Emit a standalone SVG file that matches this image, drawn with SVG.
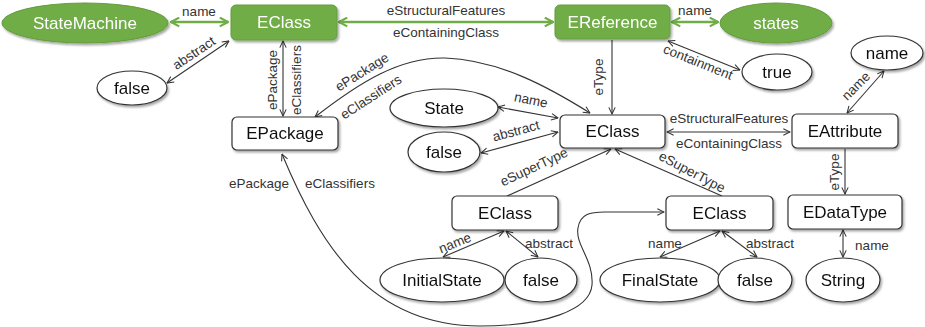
<svg xmlns="http://www.w3.org/2000/svg" width="925" height="327" viewBox="0 0 925 327">
<style>
.gn{fill:#70AD47;stroke:#639c3d;stroke-width:1}
.wn{fill:#fff;stroke:#333;stroke-width:1.2}
.nt{font-family:"Liberation Sans",Arial,sans-serif;font-size:17px;fill:#111;text-anchor:middle;dominant-baseline:central}
.gt{fill:#fff}
.lb{font-family:"Liberation Sans",Arial,sans-serif;font-size:13.5px;fill:#333;text-anchor:middle;dominant-baseline:central}
.c{fill:none;stroke:#333;stroke-width:1.1}
.cd{marker-start:url(#ah);marker-end:url(#ah)}
.cs{marker-end:url(#ah)}
.g{fill:none;stroke:#70AD47;stroke-width:2.5;marker-start:url(#gh);marker-end:url(#gh)}
</style>
<defs>
<filter id="sh" x="-20%" y="-20%" width="150%" height="160%">
<feDropShadow dx="1.5" dy="2" stdDeviation="1.3" flood-color="#000" flood-opacity="0.35"/>
</filter>
<marker id="ah" viewBox="0 0 10 10" refX="9.3" refY="5" markerWidth="8" markerHeight="8" markerUnits="userSpaceOnUse" orient="auto-start-reverse">
<path d="M1,1 L9.3,5 L1,9" fill="none" stroke="#333" stroke-width="1.3"/>
</marker>
<marker id="gh" viewBox="0 0 10 10" refX="9" refY="5" markerWidth="11" markerHeight="11" markerUnits="userSpaceOnUse" orient="auto-start-reverse">
<path d="M1.5,1 L9,5 L1.5,9" fill="none" stroke="#70AD47" stroke-width="2"/>
</marker>
</defs>

<g id="connectors">
<line class="g" x1="171" y1="22" x2="228" y2="22"/>
<line class="g" x1="339" y1="22" x2="553" y2="22"/>
<line class="g" x1="672" y1="22" x2="718" y2="22"/>
<line class="c cd" x1="167" y1="83" x2="229" y2="41"/>
<line class="c cd" x1="283" y1="41" x2="283" y2="116"/>
<line class="c cs" x1="612" y1="40" x2="612" y2="114"/>
<path class="c cd" d="M315,117 C360,82 400,57 445,58 C500,60 550,88 590,113"/>
<line class="c cd" x1="668" y1="41" x2="740" y2="70"/>
<line class="c cd" x1="498" y1="107" x2="558" y2="118"/>
<line class="c cd" x1="481" y1="153" x2="558" y2="132"/>
<line class="c cd" x1="667" y1="132" x2="790" y2="132"/>
<line class="c cd" x1="847" y1="113" x2="884" y2="71"/>
<line class="c cs" x1="845" y1="149" x2="845" y2="194"/>
<line class="c cs" x1="507" y1="196" x2="611" y2="149"/>
<line class="c cs" x1="722" y1="196" x2="615" y2="149"/>
<line class="c cd" x1="843" y1="230" x2="843" y2="257"/>
<line class="c cd" x1="443" y1="257" x2="504" y2="231"/>
<line class="c cd" x1="506" y1="231" x2="538" y2="257"/>
<line class="c cd" x1="660" y1="257" x2="720" y2="231"/>
<line class="c cd" x1="722" y1="231" x2="757" y2="257"/>
<path class="c cd" d="M282,154 C320,245 370,326 480,326 C545,326 590,310 592,285 C594,260 575,245 578,228 C580,214 590,212 605,212 L664,212"/>

<text class="lb" x="199" y="11">name</text>
<text class="lb" x="446" y="10">eStructuralFeatures</text>
<text class="lb" x="446" y="32">eContainingClass</text>
<text class="lb" x="695" y="10">name</text>
<text class="lb" transform="translate(194,53) rotate(-34)">abstract</text>
<text class="lb" transform="translate(272,80) rotate(-90)">ePackage</text>
<text class="lb" transform="translate(296,80) rotate(-90)">eClassifiers</text>
<text class="lb" transform="translate(362,72) rotate(-32)">ePackage</text>
<text class="lb" transform="translate(371,97) rotate(-33)">eClassifiers</text>
<text class="lb" transform="translate(598,77) rotate(-90)">eType</text>
<text class="lb" transform="translate(698,62) rotate(22)">containment</text>
<text class="lb" transform="translate(531,100) rotate(12)">name</text>
<text class="lb" transform="translate(516,131) rotate(-15)">abstract</text>
<text class="lb" x="729" y="118">eStructuralFeatures</text>
<text class="lb" x="729" y="143">eContainingClass</text>
<text class="lb" transform="translate(856,86) rotate(-45)">name</text>
<text class="lb" transform="translate(834,172) rotate(-90)">eType</text>
<text class="lb" transform="translate(534,167) rotate(-25)">eSuperType</text>
<text class="lb" transform="translate(692,172) rotate(28)">eSuperType</text>
<text class="lb" transform="translate(455,243) rotate(-22)">name</text>
<text class="lb" x="549" y="243">abstract</text>
<text class="lb" x="665" y="243">name</text>
<text class="lb" x="770" y="243">abstract</text>
<text class="lb" x="872" y="245">name</text>
<text class="lb" x="259" y="183">ePackage</text>
<text class="lb" x="340" y="183">eClassifiers</text>
</g>

<g id="n-statemachine" filter="url(#sh)"><ellipse class="gn" cx="85" cy="23" rx="83" ry="20"/><text class="nt gt" x="85" y="23">StateMachine</text></g>
<g id="n-eclass-top" filter="url(#sh)"><rect class="gn" x="231" y="5" width="106" height="35" rx="5"/><text class="nt gt" x="284" y="22.5">EClass</text></g>
<g id="n-ereference" filter="url(#sh)"><rect class="gn" x="555" y="5" width="115" height="34" rx="5"/><text class="nt gt" x="612.5" y="22">EReference</text></g>
<g id="n-states" filter="url(#sh)"><ellipse class="gn" cx="776" cy="23" rx="56" ry="20"/><text class="nt gt" x="776" y="23">states</text></g>
<g id="n-false-top" filter="url(#sh)"><ellipse class="wn" cx="132" cy="88" rx="35" ry="17"/><text class="nt" x="132" y="88">false</text></g>
<g id="n-true" filter="url(#sh)"><ellipse class="wn" cx="777" cy="72" rx="35" ry="18"/><text class="nt" x="777" y="72">true</text></g>
<g id="n-name" filter="url(#sh)"><ellipse class="wn" cx="887" cy="53" rx="36" ry="17"/><text class="nt" x="887" y="53">name</text></g>
<g id="n-epackage" filter="url(#sh)"><rect class="wn" x="232" y="117" width="106" height="33" rx="5"/><text class="nt" x="285" y="133.5">EPackage</text></g>
<g id="n-state" filter="url(#sh)"><ellipse class="wn" cx="444" cy="108" rx="54" ry="19"/><text class="nt" x="444" y="108">State</text></g>
<g id="n-false-mid" filter="url(#sh)"><ellipse class="wn" cx="444" cy="152" rx="36" ry="20"/><text class="nt" x="444" y="152">false</text></g>
<g id="n-eclass-mid" filter="url(#sh)"><rect class="wn" x="560" y="115" width="105" height="33" rx="5"/><text class="nt" x="612.5" y="131.5">EClass</text></g>
<g id="n-eattribute" filter="url(#sh)"><rect class="wn" x="792" y="114" width="106" height="34" rx="5"/><text class="nt" x="845" y="131">EAttribute</text></g>
<g id="n-eclass-left" filter="url(#sh)"><rect class="wn" x="452" y="196" width="106" height="34" rx="5"/><text class="nt" x="505" y="213">EClass</text></g>
<g id="n-eclass-right" filter="url(#sh)"><rect class="wn" x="666" y="196" width="107" height="34" rx="5"/><text class="nt" x="719.5" y="213">EClass</text></g>
<g id="n-edatatype" filter="url(#sh)"><rect class="wn" x="788" y="195" width="114" height="34" rx="5"/><text class="nt" x="845" y="212">EDataType</text></g>
<g id="n-initialstate" filter="url(#sh)"><ellipse class="wn" cx="442" cy="280" rx="62" ry="22"/><text class="nt" x="442" y="280">InitialState</text></g>
<g id="n-false-left" filter="url(#sh)"><ellipse class="wn" cx="541" cy="280" rx="36" ry="22"/><text class="nt" x="541" y="280">false</text></g>
<g id="n-finalstate" filter="url(#sh)"><ellipse class="wn" cx="660" cy="280" rx="60" ry="22"/><text class="nt" x="660" y="280">FinalState</text></g>
<g id="n-false-right" filter="url(#sh)"><ellipse class="wn" cx="755" cy="280" rx="37" ry="22"/><text class="nt" x="755" y="280">false</text></g>
<g id="n-string" filter="url(#sh)"><ellipse class="wn" cx="843" cy="280" rx="37" ry="22"/><text class="nt" x="843" y="280">String</text></g>
</svg>
